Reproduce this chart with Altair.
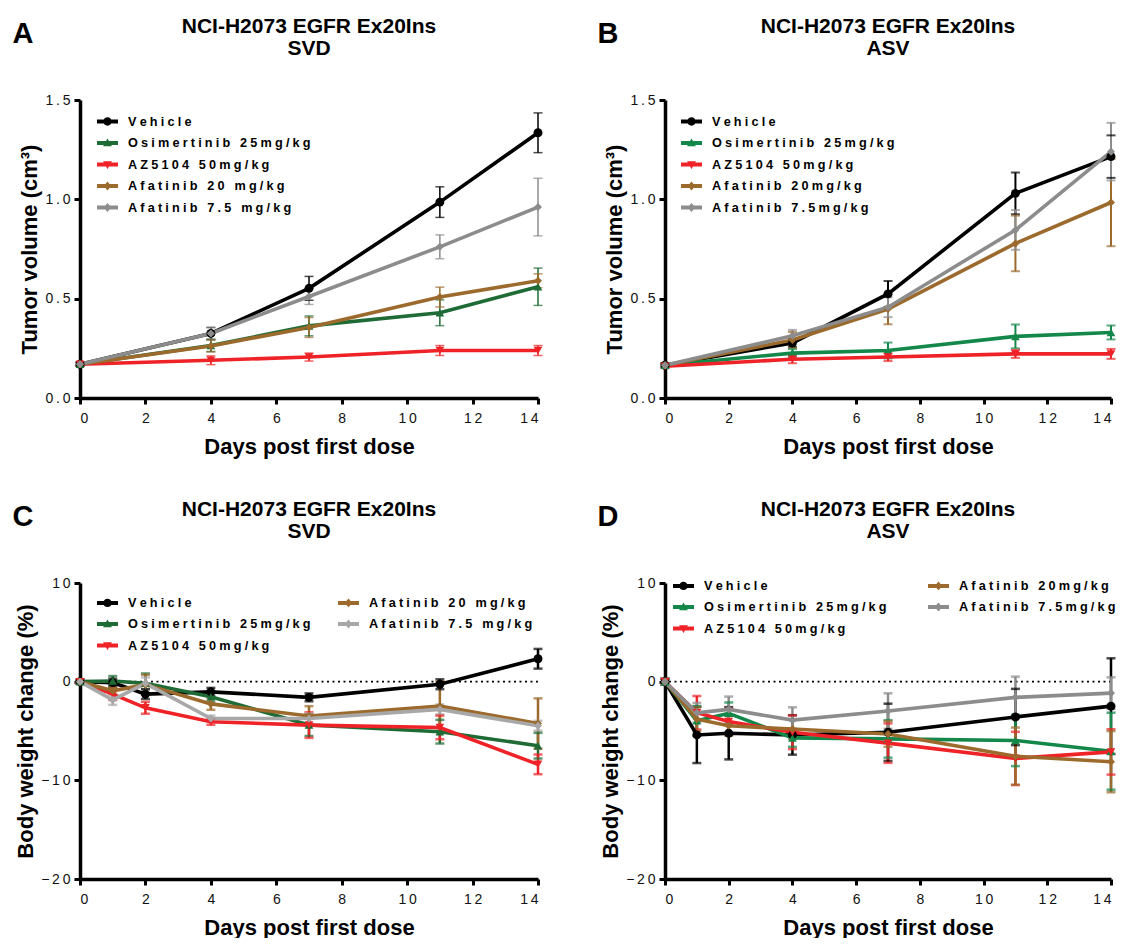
import altair as alt
import pandas as pd

# ---------------- data ----------------
days_tv = [0, 4, 7, 11, 14]
days_bw = [0, 1, 2, 4, 7, 11, 14]

series_keys = ["Vehicle", "Osimertinib", "AZ5104", "Afatinib20", "Afatinib75"]
marker_of = ["circle", "triangle-up", "triangle-down", "diamond", "diamond"]

labels_A = ["Vehicle", "Osimertinib 25mg/kg", "AZ5104 50mg/kg", "Afatinib 20 mg/kg", "Afatinib 7.5 mg/kg"]
labels_B = ["Vehicle", "Osimertinib 25mg/kg", "AZ5104 50mg/kg", "Afatinib 20mg/kg", "Afatinib 7.5mg/kg"]
labels_C = ["Vehicle", "Osimertinib 25mg/kg", "AZ5104 50mg/kg", "Afatinib 20 mg/kg", "Afatinib 7.5 mg/kg"]
labels_D = ["Vehicle", "Osimertinib 25mg/kg", "AZ5104 50mg/kg", "Afatinib 20mg/kg", "Afatinib 7.5mg/kg"]

colors_A = ["#000000", "#1f6b35", "#ee2227", "#9b6a2c", "#8c8c8c"]
colors_B = ["#000000", "#13884a", "#ee2227", "#9b6a2c", "#8c8c8c"]
colors_C = ["#000000", "#1f6b35", "#ee2227", "#9b6a2c", "#a8a8a8"]
colors_D = ["#000000", "#13884a", "#ee2227", "#9b6a2c", "#8c8c8c"]

# Panel A: tumor volume, SVD
A_vehicle = [0.17, 0.325, 0.552, 0.986, 1.335]
A_vehicle_err = [0.01, 0.03, 0.06, 0.077, 0.10]
A_osi = [0.17, 0.264, 0.363, 0.429, 0.560]
A_osi_err = [0.01, 0.03, 0.05, 0.065, 0.094]
A_az = [0.17, 0.19, 0.206, 0.239, 0.239]
A_az_err = [0.01, 0.022, 0.02, 0.025, 0.025]
A_afa20 = [0.17, 0.262, 0.355, 0.508, 0.590]
A_afa20_err = [0.01, 0.03, 0.05, 0.05, 0.035]
A_afa75 = [0.17, 0.325, 0.511, 0.761, 0.961]
A_afa75_err = [0.01, 0.03, 0.04, 0.06, 0.145]

# Panel B: tumor volume, ASV
B_vehicle = [0.165, 0.277, 0.524, 1.03, 1.215]
B_vehicle_err = [0.01, 0.02, 0.065, 0.105, 0.107]
B_osi = [0.165, 0.226, 0.239, 0.31, 0.33]
B_osi_err = [0.01, 0.02, 0.04, 0.06, 0.035]
B_az = [0.16, 0.195, 0.206, 0.222, 0.222]
B_az_err = [0.01, 0.02, 0.02, 0.02, 0.025]
B_afa20 = [0.165, 0.292, 0.448, 0.778, 0.984]
B_afa20_err = [0.01, 0.04, 0.077, 0.14, 0.22]
B_afa75 = [0.165, 0.313, 0.457, 0.846, 1.24]
B_afa75_err = [0.01, 0.03, 0.05, 0.10, 0.145]

# Panel C: body weight change, SVD
C_vehicle = [0, -0.1, -1.26, -1.03, -1.59, -0.26, 2.32]
C_vehicle_err = [0.2, 0.4, 0.5, 0.4, 0.4, 0.5, 1.0]
C_osi = [0, 0.07, -0.17, -1.52, -4.4, -5.07, -6.49]
C_osi_err = [0.2, 0.5, 1.0, 0.5, 1.1, 1.2, 1.3]
C_az = [0, -1.26, -2.65, -4.07, -4.4, -4.64, -8.38]
C_az_err = [0.2, 0.6, 0.6, 0.3, 1.3, 1.2, 1.0]
C_afa20 = [0, -0.93, -0.3, -2.25, -3.48, -2.48, -4.24]
C_afa20_err = [0.2, 0.3, 1.0, 0.6, 1.0, 2.5, 2.55]
C_afa75 = [0, -1.85, -0.17, -3.74, -3.74, -2.81, -4.47]
C_afa75_err = [0.2, 0.5, 0.6, 0.3, 0.5, 0.5, 0.5]

# Panel D: body weight change, ASV
D_vehicle = [0, -5.4, -5.23, -5.4, -5.13, -3.58, -2.48]
D_vehicle_err = [0.3, 2.85, 2.65, 2.0, 2.9, 2.85, 4.85]
D_osi = [0, -3.97, -3.21, -5.7, -5.8, -5.96, -7.05]
D_osi_err = [0.3, 1.5, 1.1, 0.9, 1.9, 2.6, 3.9]
D_az = [0, -3.15, -4.04, -5.13, -6.23, -7.78, -7.12]
D_az_err = [0.3, 1.7, 1.3, 1.7, 2.0, 2.7, 2.3]
D_afa20 = [0, -3.8, -4.47, -4.8, -5.3, -7.55, -8.11]
D_afa20_err = [0.3, 1.2, 1.0, 1.0, 1.3, 2.9, 3.1]
D_afa75 = [0, -3.15, -2.81, -3.9, -2.98, -1.59, -1.16]
D_afa75_err = [0.3, 1.0, 1.3, 1.3, 1.8, 2.1, 1.6]

title_line1 = "NCI-H2073 EGFR Ex20Ins"
x_title = "Days post first dose"
y_title_tv = "Tumor volume (cm³)"
y_title_bw = "Body weight change (%)"
x_ticks = [0, 2, 4, 6, 8, 10, 12, 14]
y_ticks_tv = [0.0, 0.5, 1.0, 1.5]
y_ticks_bw = [-20, -10, 0, 10]

# legend symbols: a thick line with the marker in its middle
BAR = "M-1,-0.19H1V0.19H-1Z "
legend_paths = [
    BAR + "M0.4,0A0.4,0.4 0 1,1 -0.4,0A0.4,0.4 0 1,1 0.4,0Z",
    BAR + "M0,-0.42L0.42,0.3L-0.42,0.3Z",
    BAR + "M-0.42,-0.3L0.42,-0.3L0,0.42Z",
    BAR + "M0,-0.42L0.36,0L0,0.42L-0.36,0Z",
    BAR + "M0,-0.42L0.36,0L0,0.42L-0.36,0Z",
]

FONT = "Liberation Sans"
SPACED = "join(split(datum.label, ''), '\u2009')"
SPACED_LEG = "join(split(datum.label, ''), '\u2005')"


def make_df(days, means, errs, labels):
    rows = []
    for k, (m, e) in enumerate(zip(means, errs)):
        for d, v, s in zip(days, m, e):
            rows.append({"day": d, "mean": v, "lo": v - s, "hi": v + s,
                         "series": labels[k], "marker": marker_of[k], "order": k})
    return pd.DataFrame(rows)


def panel(letter, sub, days, means, errs, labels, colors, ydom, yticks, yfmt,
          ytitle, legend_cols, legend_x, legend_y, col_pad,
          err_w, cap_w, zero_line, width, height):
    df = make_df(days, means, errs, labels)
    dom = labels
    rng = colors
    shp = legend_paths

    xaxis = alt.Axis(values=x_ticks, title=x_title, labelExpr=SPACED,
                     labelPadding=7, titlePadding=11)
    yaxis = alt.Axis(values=yticks, format=yfmt, title=ytitle, labelExpr=SPACED,
                     labelPadding=4, titlePadding=3)
    X = alt.X("day:Q", scale=alt.Scale(domain=[0, 14], nice=False), axis=xaxis)

    def Y(field):
        return alt.Y(field, type="quantitative",
                     scale=alt.Scale(domain=ydom, nice=False, zero=False), axis=yaxis)

    colscale = alt.Scale(domain=dom, range=rng)
    C = alt.Color("series:N", scale=colscale, legend=None)
    base = alt.Chart(df)
    leg = alt.Legend(title=None, orient="none", legendX=legend_x, legendY=legend_y,
                     columns=legend_cols, columnPadding=col_pad, rowPadding=3.5,
                     symbolSize=441, symbolStrokeWidth=0, labelOffset=10,
                     labelFont=FONT, labelFontSize=12.7, labelFontWeight="bold",
                     labelColor="black", labelExpr=SPACED_LEG, padding=0, labelLimit=400)
    layers = [
        # legend-only layer (no data drawn): defines the legend entries
        base.transform_filter("false").mark_point(filled=True, opacity=1).encode(
            x=X, y=Y("mean"),
            color=alt.Color("series:N", scale=colscale, legend=leg),
            shape=alt.Shape("series:N", scale=alt.Scale(domain=dom, range=shp), legend=leg))
    ]
    if zero_line:
        layers.append(
            alt.Chart(pd.DataFrame({"mean": [0.0]}))
            .mark_rule(color="black", strokeWidth=1.6, strokeDash=[2, 3.5])
            .encode(y=Y("mean"))
        )
    layers.append(base.mark_rule(strokeWidth=err_w).encode(x=X, y=Y("lo"), y2="hi:Q", color=C))
    layers.append(base.mark_tick(orient="horizontal", size=9, thickness=cap_w)
                  .encode(x=X, y=Y("lo"), color=C))
    layers.append(base.mark_tick(orient="horizontal", size=9, thickness=cap_w)
                  .encode(x=X, y=Y("hi"), color=C))
    layers.append(base.mark_line(strokeWidth=3.6).encode(
        x=X, y=Y("mean"), color=C, detail="series:N", order="day:Q"))
    for shape, size in [("circle", 80), ("triangle-up", 75), ("triangle-down", 75), ("diamond", 65)]:
        layers.append(base.transform_filter(alt.datum.marker == shape)
                      .mark_point(filled=True, shape=shape, size=size, opacity=1)
                      .encode(x=X, y=Y("mean"), color=C))
    layers.append(
        alt.Chart(pd.DataFrame({"t": [letter]}))
        .mark_text(font=FONT, fontSize=29, fontWeight="bold", align="center",
                   baseline="middle", color="black")
        .encode(text="t:N", x=alt.value(-57), y=alt.value(-66))
    )
    return alt.layer(*layers).properties(
        width=width, height=height,
        title=alt.TitleParams([title_line1, sub], font=FONT, fontSize=21,
                              fontWeight="bold", anchor="middle", offset=-39,
                              lineHeight=22, color="black"),
    )


pA = panel("A", "SVD", days_tv,
           [A_vehicle, A_osi, A_az, A_afa20, A_afa75],
           [A_vehicle_err, A_osi_err, A_az_err, A_afa20_err, A_afa75_err],
           labels_A, colors_A, [0, 1.5], y_ticks_tv, ".1f", y_title_tv,
           1, 17, 11, 10, 1.5, 1.5, False, 458, 298)
pB = panel("B", "ASV", days_tv,
           [B_vehicle, B_osi, B_az, B_afa20, B_afa75],
           [B_vehicle_err, B_osi_err, B_az_err, B_afa20_err, B_afa75_err],
           labels_B, colors_B, [0, 1.5], y_ticks_tv, ".1f", y_title_tv,
           1, 16, 11, 10, 2.0, 2.0, False, 446, 298)
pC = panel("C", "SVD", days_bw,
           [C_vehicle, C_osi, C_az, C_afa20, C_afa75],
           [C_vehicle_err, C_osi_err, C_az_err, C_afa20_err, C_afa75_err],
           labels_C, colors_C, [-20, 10], y_ticks_bw, "d", y_title_bw,
           2, 17, 9, 27, 2.5, 2.5, True, 458, 296)
pD = panel("D", "ASV", days_bw,
           [D_vehicle, D_osi, D_az, D_afa20, D_afa75],
           [D_vehicle_err, D_osi_err, D_az_err, D_afa20_err, D_afa75_err],
           labels_D, colors_D, [-20, 10], y_ticks_bw, "d", y_title_bw,
           2, 8, -8, 41, 2.5, 2.5, True, 446, 296)

chart = (
    alt.concat(pA, pB, pC, pD, columns=2, spacing={"row": 42, "column": 51})
    .resolve_scale(color="independent", shape="independent")
    .properties(padding={"left": 4, "top": 8, "right": 0, "bottom": 0})
    .configure_view(stroke=None)
    .configure_axis(domainColor="black", domainWidth=3.5, tickColor="black",
                    tickWidth=3, tickSize=6, labelFont=FONT, labelFontSize=14,
                    labelColor="#111111", titleFont=FONT, titleFontSize=22,
                    titleFontWeight="bold", titleColor="black", grid=False)
)

chart.save("out.html", embed_options={"renderer": "svg", "actions": False})
